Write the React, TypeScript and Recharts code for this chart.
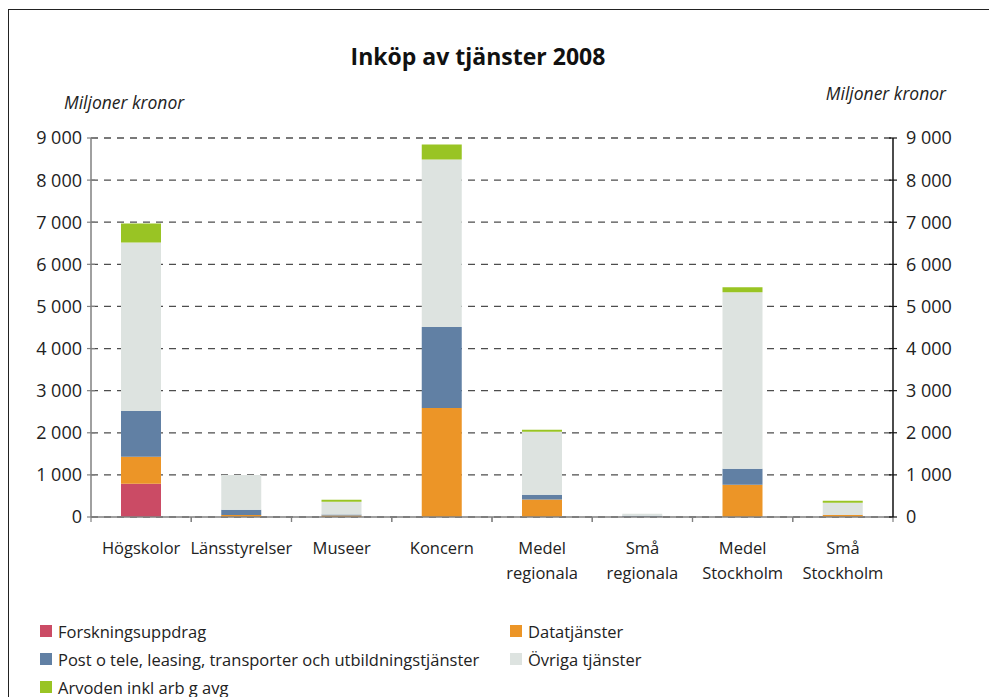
import React from 'react';
import { BarChart, Bar, XAxis, YAxis, CartesianGrid } from 'recharts';

// Kategorier och värden (miljoner kronor)
const kategorier = [
  'Högskolor',
  'Länsstyrelser',
  'Museer',
  'Koncern',
  'Medel\nregionala',
  'Små\nregionala',
  'Medel\nStockholm',
  'Små\nStockholm',
];

const forskningsuppdrag = [790, 0, 0, 0, 0, 0, 0, 0];
const datatjanster = [640, 50, 35, 2590, 417, 5, 765, 50];
const postTele = [1090, 125, 25, 1920, 110, 25, 380, 5];
const ovrigaTjanster = [4000, 825, 305, 3980, 1495, 45, 4195, 285];
const arvoden = [450, 0, 45, 355, 50, 0, 117, 45];

const yTicks = [0, 1000, 2000, 3000, 4000, 5000, 6000, 7000, 8000, 9000];

const serier = [
  { key: 'forsk', namn: 'Forskningsuppdrag', farg: '#CB4B65', varden: forskningsuppdrag },
  { key: 'data', namn: 'Datatjänster', farg: '#EC9527', varden: datatjanster },
  { key: 'post', namn: 'Post o tele, leasing, transporter och utbildningstjänster', farg: '#6180A4', varden: postTele },
  { key: 'ovr', namn: 'Övriga tjänster', farg: '#DDE3E0', varden: ovrigaTjanster },
  { key: 'arv', namn: 'Arvoden inkl arb g avg', farg: '#99C424', varden: arvoden },
];

const data = kategorier.map((kat, i) => {
  const rad: Record<string, string | number> = { kat };
  serier.forEach((s) => {
    rad[s.key] = s.varden[i];
  });
  return rad;
});

const FONT = '"Open Sans", "Noto Sans", sans-serif';

const formatera = (v: number) => String(v).replace(/\B(?=(\d{3})+(?!\d))/g, ' ');

const VansterTick = (props: any) => {
  const { x, y, payload } = props;
  const axelX = x + 9;
  return (
    <g>
      <line x1={axelX - 4} x2={axelX + 4} y1={y} y2={y} stroke="#808080" strokeWidth={1.2} />
      <text x={x} y={y} dy="0.36em" textAnchor="end" fontSize={18} fill="#222" fontFamily={FONT}>
        {formatera(payload.value)}
      </text>
    </g>
  );
};

const HogerTick = (props: any) => {
  const { x, y, payload } = props;
  const axelX = x - 13;
  return (
    <g>
      <line x1={axelX - 4} x2={axelX + 4} y1={y} y2={y} stroke="#111" strokeWidth={1.2} />
      <text x={x} y={y} dy="0.36em" textAnchor="start" fontSize={18} fill="#222" fontFamily={FONT}>
        {formatera(payload.value)}
      </text>
    </g>
  );
};

const KategoriTick = (props: any) => {
  const { x, y, payload } = props;
  const halv = payload.offset || 50;
  const rader = String(payload.value).split('\n');
  return (
    <g>
      <line x1={x - halv} x2={x - halv} y1={y} y2={y + 5} stroke="#808080" strokeWidth={1.2} />
      <line x1={x + halv} x2={x + halv} y1={y} y2={y + 5} stroke="#808080" strokeWidth={1.2} />
      <text textAnchor="middle" fontSize={16.5} fill="#222" fontFamily={FONT}>
        {rader.map((r, i) => (
          <tspan key={i} x={x} y={y + 37 + i * 25}>
            {r}
          </tspan>
        ))}
      </text>
    </g>
  );
};

const App = () => {
  return (
    <div
      style={{
        position: 'absolute',
        top: 0,
        left: 0,
        width: 989,
        height: 697,
        overflow: 'hidden',
        background: '#fff',
        fontFamily: FONT,
      }}
    >
      {/* Ram */}
      <div
        style={{
          position: 'absolute',
          left: 8,
          top: 9,
          width: 1000,
          height: 700,
          borderTop: '1.6px solid #222',
          borderLeft: '1.6px solid #222',
        }}
      />
      <div
        style={{
          position: 'absolute',
          top: 40,
          left: 0,
          width: 956,
          textAlign: 'center',
          fontSize: 23,
          fontWeight: 700,
          color: '#111',
        }}
      >
        Inköp av tjänster 2008
      </div>
      <div style={{ position: 'absolute', left: 64, top: 90, fontSize: 17.5, fontStyle: 'italic', color: '#222' }}>
        Miljoner kronor
      </div>
      <div
        style={{
          position: 'absolute',
          right: 989 - 946,
          top: 81,
          fontSize: 17.5,
          fontStyle: 'italic',
          color: '#222',
        }}
      >
        Miljoner kronor
      </div>

      <div style={{ position: 'absolute', top: 0, left: 0 }}>
        <BarChart
          width={989}
          height={697}
          data={data}
          margin={{ top: 138, right: 0, bottom: 110, left: 0 }}
          barSize={40}
        >
          <CartesianGrid
            yAxisId="left"
            vertical={false}
            stroke="#4d4d4d"
            strokeWidth={1.3}
            strokeDasharray="7 6"
          />
          <XAxis
            dataKey="kat"
            height={70}
            interval={0}
            tickLine={false}
            tickSize={0}
            tickMargin={0}
            axisLine={{ stroke: '#808080', strokeWidth: 1.5 }}
            tick={<KategoriTick />}
          />
          <YAxis
            yAxisId="left"
            width={91}
            domain={[0, 9000]}
            allowDataOverflow
            ticks={yTicks}
            interval={0}
            tickLine={false}
            tickSize={4}
            tickMargin={5}
            axisLine={{ stroke: '#808080', strokeWidth: 1.5 }}
            tick={<VansterTick />}
          />
          <YAxis
            yAxisId="right"
            orientation="right"
            width={96}
            type="number"
            domain={[0, 9000]}
            allowDataOverflow
            ticks={yTicks}
            interval={0}
            tickLine={false}
            tickSize={4}
            tickMargin={9}
            axisLine={{ stroke: '#111', strokeWidth: 1.5 }}
            tick={<HogerTick />}
          />
          {serier.map((s) => (
            <Bar
              key={s.key}
              dataKey={s.key}
              name={s.namn}
              stackId="a"
              yAxisId="left"
              fill={s.farg}
              isAnimationActive={false}
            />
          ))}
        </BarChart>
      </div>

      {/* Förklaring */}
      <div
        style={{
          position: 'absolute',
          left: 40,
          top: 619,
          display: 'grid',
          gridTemplateColumns: '470px 400px',
          rowGap: 4,
          fontSize: 16.5,
          color: '#222',
        }}
      >
        {serier.map((s) => (
          <div key={s.key} style={{ display: 'flex', alignItems: 'center', height: 24 }}>
            <span style={{ width: 12, height: 12, background: s.farg, marginRight: 6, display: 'inline-block' }} />
            <span>{s.namn}</span>
          </div>
        ))}
      </div>
    </div>
  );
};

export default App;
